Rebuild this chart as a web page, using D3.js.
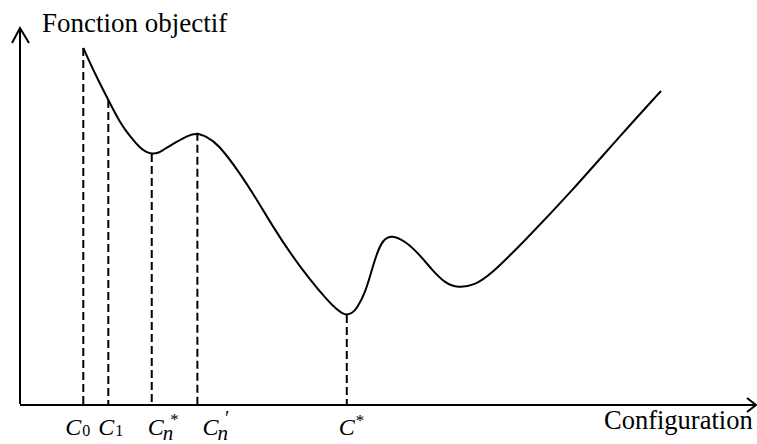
<!DOCTYPE html>
<html>
<head>
<meta charset="utf-8">
<script src="https://cdn.jsdelivr.net/npm/d3@7"></script>
</head>
<body style="margin:0">
<svg id="chart" width="757" height="444"></svg>
<script>
// Objective function landscape: configuration (x) vs objective value (y)
const configX = [8.6, 10.2, 12.0, 13.6, 15.0, 16.3, 17.1, 17.9, 18.8, 19.4,
                 21.3, 22.7, 24.1, 25.4, 26.8, 29.9, 32.2, 34.4, 36.7, 39.4,
                 41.7, 43.1, 43.8, 44.4, 45.1, 45.8, 46.9, 47.8, 48.5, 49.3,
                 50.5, 52.3, 54.1, 56.0, 57.7, 59.5, 61.8, 63.9, 68.3, 75.1,
                 81.9, 87.1];
const objectiveY = [94.7, 87.8, 80.9, 74.8, 71.1, 68.2, 67.1, 66.6, 66.8, 67.6,
                    69.8, 71.4, 72.2, 71.1, 69.5, 61.5, 54.4, 47.2, 40.3, 33.2,
                    27.9, 25.2, 24.3, 23.9, 24.3, 25.7, 29.7, 35.8, 40.3, 43.8,
                    45.1, 43.5, 40.3, 35.8, 32.4, 31.0, 31.8, 34.5, 43.0, 57.0,
                    72.2, 83.3];

// Marked configurations (indices into the curve samples) and their labels
const markIndex = [0, 2, 7, 12, 23];
const markBase  = ["C", "C", "C", "C", "C"];
const markSub   = ["0", "1", "n", "n", ""];
const markSup   = ["", "", "*", "′", "*"];

const axisTitleY = "Fonction objectif";
const axisTitleX = "Configuration";

// Layout
const originX = 20, originY = 405;
const x = d3.scaleLinear().domain([0, 100]).range([originX, 756]);
const y = d3.scaleLinear().domain([0, 100]).range([originY, 28]);
const labelDx = [-18, -10, -4, 5, -8];   // horizontal nudge of each label from its line
const SERIF = '"Liberation Serif"';

const svg = d3.select("#chart");
const ink = "#000";

function draw() {
  svg.selectAll("*").remove();
  const points = configX.map((v, i) => ({ x: v, y: objectiveY[i] }));

  // Axes with open arrowheads
  const g = svg.append("g").attr("stroke", ink).attr("fill", "none")
    .attr("stroke-width", 2).attr("stroke-linecap", "butt");
  g.append("line")
    .attr("x1", x(0)).attr("y1", y(0)).attr("x2", x(100)).attr("y2", y(0));
  g.append("line")
    .attr("x1", x(0)).attr("y1", y(0) - 1).attr("x2", x(0)).attr("y2", y(100));
  g.append("path")
    .attr("d", `M${x(100) - 9},${y(0) - 7} L${x(100)},${y(0)} L${x(100) - 9},${y(0) + 7}`);
  g.append("path")
    .attr("d", `M${x(0) - 8},${y(100) + 15} L${x(0)},${y(100)} L${x(0) + 9},${y(100) + 15}`);

  // Dashed drop lines from the curve to the configuration axis
  svg.append("g").selectAll("line")
    .data(markIndex)
    .join("line")
    .attr("x1", i => x(configX[i]))
    .attr("x2", i => x(configX[i]))
    .attr("y1", i => y(objectiveY[i]))
    .attr("y2", y(0) - 1)
    .attr("stroke", ink)
    .attr("stroke-width", 2)
    .attr("stroke-dasharray", "8,4");

  // Objective curve (smooth B-spline through the samples)
  const line = d3.line()
    .x(d => x(d.x))
    .y(d => y(d.y))
    .curve(d3.curveBasis);

  svg.append("path")
    .datum(points)
    .attr("d", line)
    .attr("fill", "none")
    .attr("stroke", ink)
    .attr("stroke-width", 2)
    .attr("stroke-linejoin", "round");

  // Labels of the marked configurations
  markIndex.forEach((idx, k) => {
    const t = svg.append("text")
      .attr("x", x(configX[idx]) + labelDx[k])
      .attr("y", 435)
      .style("font-family", SERIF)
      .style("font-size", "24px");
    t.append("tspan")
      .style("font-style", "italic")
      .text(markBase[k]);
    const isSym = markSub[k] === "n";
    if (markSub[k]) {
      t.append("tspan")
        .style("font-style", isSym ? "italic" : "normal")
        .style("font-size", isSym ? "21px" : "16px")
        .attr("dx", isSym ? -1 : 1)
        .attr("dy", isSym ? 5 : 1)
        .text(markSub[k]);
    }
    if (markSup[k]) {
      const wasSub = !!markSub[k];
      const isStar = markSup[k] === "*";
      t.append("tspan")
        .style("font-size", isStar ? "17px" : "20px")
        .attr("dx", wasSub ? -3 : 1)
        .attr("dy", wasSub ? -15 : -9)
        .text(markSup[k]);
    }
  });

  // Axis titles
  svg.append("text")
    .attr("x", 42).attr("y", 32)
    .style("font-family", SERIF)
    .style("font-size", "27px")
    .text(axisTitleY);

  svg.append("text")
    .attr("x", 604).attr("y", 429)
    .style("font-family", SERIF)
    .style("font-size", "26.5px")
    .text(axisTitleX);
}

draw();
// Redraw once the serif faces are resolved
if (document.fonts && document.fonts.load) {
  Promise.all([
    document.fonts.load('27px "Liberation Serif"'),
    document.fonts.load('italic 24px "Liberation Serif"')
  ]).then(draw, draw);
}
</script>
</body>
</html>
